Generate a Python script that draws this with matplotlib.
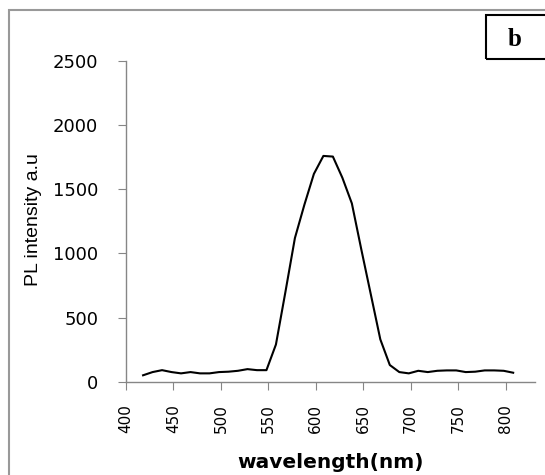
import numpy as np
import matplotlib
matplotlib.use('Agg')
import matplotlib.pyplot as plt
from matplotlib.patches import Rectangle

## PL spectrum data
wavelength = [418, 428, 438, 448, 458, 468, 478, 488, 498, 508,
              518, 528, 538, 548, 558, 568, 578, 588, 598, 608,
              618, 628, 638, 648, 658, 668, 678, 688, 698, 708,
              718, 728, 738, 748, 758, 768, 778, 788, 798, 808]
intensity = [50, 75, 90, 75, 65, 75, 65, 65, 75, 78,
             85, 98, 90, 90, 290, 700, 1120, 1380, 1620, 1760,
             1755, 1590, 1390, 1030, 680, 330, 130, 75, 65, 85,
             75, 85, 88, 88, 75, 78, 88, 88, 85, 70]
xticks = [400, 450, 500, 550, 600, 650, 700, 750, 800]
yticks = [0, 500, 1000, 1500, 2000, 2500]

W, H = 545, 475
fig = plt.figure(figsize=(W/100, H/100), dpi=100)
ax = fig.add_axes([126/W, 1 - 381.7/H, (535-126)/W, (381.7-61)/H])

ax.plot(wavelength, intensity, color='black', lw=1.5)

ax.set_xlim(400, 831)
ax.set_ylim(0, 2500)
ax.set_xticks(xticks)
ax.set_yticks(yticks)
ax.set_xticklabels([str(t) for t in xticks], rotation=90, fontsize=11)
ax.set_yticklabels([str(t) for t in yticks], fontsize=13)

gray = '#868686'
for s in ['top', 'right']:
    ax.spines[s].set_visible(False)
for s in ['left', 'bottom']:
    ax.spines[s].set_color(gray)
    ax.spines[s].set_linewidth(1.0)
ax.tick_params(axis='y', colors=gray, labelcolor='black', length=6, pad=14)
ax.tick_params(axis='x', colors=gray, labelcolor='black', length=6, pad=10)

fig.text(33/W, 1 - 220/H, 'PL intensity a.u', rotation=90, ha='center', va='center',
         fontsize=14, family='Liberation Sans')
fig.text(331/W, 1 - 463/H, 'wavelength(nm)', ha='center', va='center',
         fontsize=14.5, fontweight='bold')

# outer frame (runs past right and bottom edge)
fig.patches.append(Rectangle((8.5/W, -0.1), 1.0, 1 - 10/H + 0.1, transform=fig.transFigure,
                             fill=False, edgecolor='#999999', lw=1.5))
# panel label box
fig.patches.append(Rectangle((486/W, 1 - 59/H), 0.2, 44/H, transform=fig.transFigure,
                             fill=False, edgecolor='black', lw=1.5))
fig.text(515/W, 1 - 39/H, 'b', ha='center', va='center', fontsize=18,
         fontweight='bold', family='Liberation Serif')

fig.savefig('out.png', dpi=100)
